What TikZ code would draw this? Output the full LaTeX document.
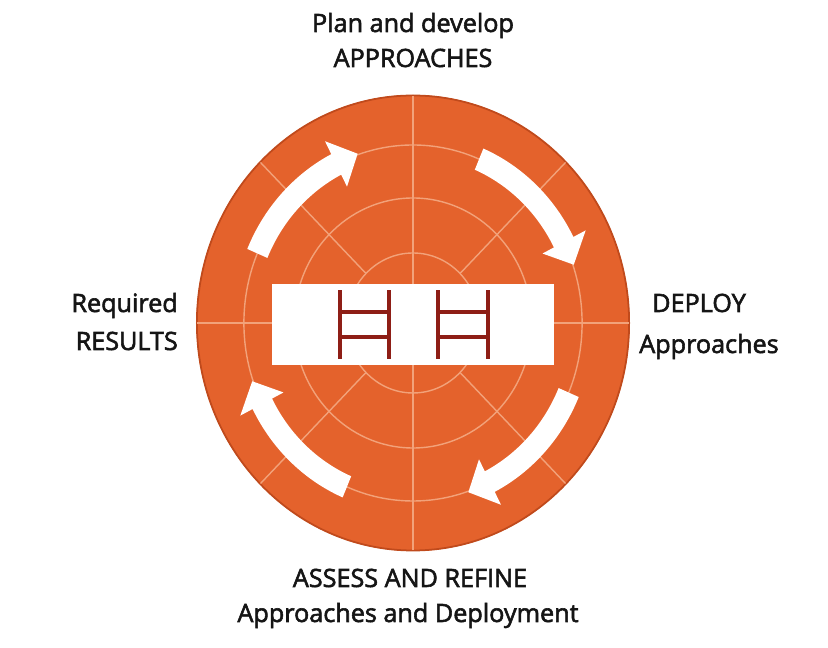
\documentclass[tikz,border=0pt]{standalone}
\usepackage{fontspec}
\setmainfont{Open Sans}
\newfontfamily\capfont{Open Sans}[FakeBold=2.2]
\definecolor{disc}{HTML}{E4622C}
\definecolor{discedge}{HTML}{C04A1C}
\definecolor{grid}{HTML}{F2A27A}
\definecolor{divider}{HTML}{8E1E16}
\definecolor{ink}{HTML}{151515}
\begin{document}
\begin{tikzpicture}[x=0.03cm,y=0.03cm,
  caption/.style={font=\capfont\fontsize{21.5}{25}\selectfont, text=ink, inner sep=0pt, anchor=base},
  gridline/.style={draw=grid, line width=1.2},
  cyclearrow/.style={fill=white},
  cellrule/.style={draw=divider, line width=3.2}]
\useasboundingbox (0,0) rectangle (828,648);
\fill[white] (0,0) rectangle (828,648);

% disc with its polar grid and the four clockwise arrows
\begin{scope}[shift={(413,325)}, xscale=0.95]
  \fill[disc] (0,0) circle[radius=228];
  \draw[discedge, line width=1.5] (0,0) circle[radius=227.5];
  \foreach \r in {178,125,70}
    \draw[gridline] (0,0) circle[radius=\r];
  \draw[gridline] (-227,0) -- (227,0);
  \draw[gridline] (0,-227) -- (0,227);
  \foreach \a in {45,135,225,315}
    \draw[gridline] (\a:70) -- (\a:227);
  \foreach \t in {0,90,180,270}
    \fill[cyclearrow]
      ({\t+67}:189.5) arc[start angle={\t+67}, end angle={\t+27}, radius=189.5]
      -- ({\t+27}:204) -- ({\t+19}:179) -- ({\t+27}:153) -- ({\t+27}:166.5)
      arc[start angle={\t+27}, end angle={\t+67}, radius=166.5] -- cycle;
\end{scope}

% central block of five cells
\node[fill=white, minimum width=240, minimum height=69, inner sep=0pt] (block) at (413,323.5) {};
\foreach \x in {340,389,438,488}
  \draw[cellrule] (\x,289) -- (\x,358);
\foreach \y in {311,336} {
  \draw[cellrule] (340,\y) -- (389,\y);
  \draw[cellrule] (438,\y) -- (488,\y);
}

% captions
\node[caption] (planA) at (413,616) {Plan and develop};
\node[caption] (planB) at (413,581) {APPROACHES};
\node[caption, anchor=base east] (reqA) at (178,336) {Required};
\node[caption, anchor=base east] (reqB) at (178,298) {RESULTS};
\node[caption] (depA) at (699,336) {DEPLOY};
\node[caption] (depB) at (709,295) {Approaches};
\node[caption] (assA) at (410,61) {ASSESS AND REFINE};
\node[caption] (assB) at (408,26) {Approaches and Deployment};
\end{tikzpicture}
\end{document}
